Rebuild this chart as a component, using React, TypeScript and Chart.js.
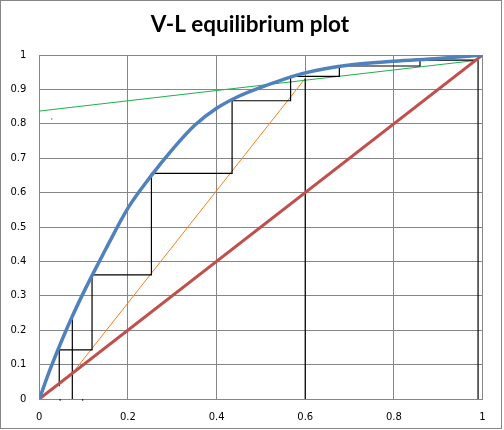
import React, { useEffect, useRef } from 'react';
import { Chart, registerables } from 'chart.js';

Chart.register(...registerables);

// Equilibrium curve
const eqX = [0, 0.025, 0.05, 0.075, 0.1, 0.125, 0.15, 0.2, 0.25, 0.3, 0.35, 0.4, 0.45, 0.5, 0.6, 0.7, 0.8, 0.9, 1];
const eqY = [0, 0.088, 0.168, 0.242, 0.31, 0.374, 0.436, 0.555, 0.645, 0.725, 0.795, 0.845, 0.88, 0.906, 0.948, 0.971, 0.982, 0.99, 1];

// y = x diagonal
const diagX = [0, 1];
const diagY = [0, 1];

// Rectifying operating line
const rectX = [0, 0.99];
const rectY = [0.837, 0.985];

// Stripping operating line
const stripX = [0.0745, 0.6];
const stripY = [0.0745, 0.932];

// Stage steps
const stepX = [0.99, 0.859, 0.859, 0.677, 0.677, 0.567, 0.567, 0.435, 0.435, 0.253, 0.253, 0.119, 0.119, 0.045, 0.045];
const stepY = [0.985, 0.985, 0.968, 0.968, 0.938, 0.938, 0.867, 0.867, 0.656, 0.656, 0.361, 0.361, 0.143, 0.143, 0.037];

// Vertical marker lines: distillate, feed, bottoms
const distX = [0.99, 0.99];
const distY = [0, 0.985];
const feedX = [0.6, 0.6];
const feedY = [0, 0.932];
const botX = [0.0745, 0.0745];
const botY = [0, 0.242];

// tiny marks
const markX = [0.047, 0.047, 0.098, 0.098];
const markY = [-0.005, 0, -0.005, 0];
const dotX = [0.028];
const dotY = [0.814];

const xTicks = [0, 0.2, 0.4, 0.6, 0.8, 1];
const yTicks = [0, 0.1, 0.2, 0.3, 0.4, 0.5, 0.6, 0.7, 0.8, 0.9, 1];

const pts = (xs: number[], ys: number[]) => xs.map((x, i) => ({ x, y: ys[i] }));

const GRID = '#868686';

export default function App() {
  const ref = useRef<HTMLCanvasElement | null>(null);

  useEffect(() => {
    document.body.style.margin = '0';
    const canvas = ref.current;
    if (!canvas) return;

    const frame = {
      id: 'frame',
      afterDraw(chart: any) {
        const ctx = chart.ctx;
        ctx.save();
        ctx.strokeStyle = GRID;
        ctx.lineWidth = 1;
        ctx.strokeRect(0.5, 0.5, 501, 428);
        ctx.fillStyle = '#000';
        ctx.font = 'bold 22.5px Lato';
        ctx.textAlign = 'center';
        ctx.textBaseline = 'alphabetic';
        ctx.fillText('V-L equilibrium plot', 250, 32);
        ctx.restore();
      },
    };

    const markPts = [
      { x: markX[0], y: markY[0] },
      { x: markX[1], y: markY[1] },
      { x: markX[1], y: null as any },
      { x: markX[2], y: markY[2] },
      { x: markX[3], y: markY[3] },
    ];

    const line = (data: any[], color: string, width: number, extra: any = {}) => ({
      data,
      showLine: true,
      borderColor: color,
      backgroundColor: color,
      borderWidth: width,
      pointRadius: 0,
      pointHoverRadius: 0,
      fill: false,
      tension: 0,
      ...extra,
    });

    const tickFont = { family: "'DejaVu Sans', Verdana, sans-serif", size: 10 };

    const chart = new Chart(canvas, {
      type: 'scatter',
      data: {
        datasets: [
          line(pts(eqX, eqY), '#4F81BD', 3.5, { cubicInterpolationMode: 'monotone' }),
          line(pts(diagX, diagY), '#C0504D', 3),
          line(pts(stepX, stepY), '#000000', 1.2),
          line(pts(distX, distY), '#000000', 1.2),
          line(pts(feedX, feedY), '#000000', 1.2),
          line(pts(botX, botY), '#000000', 1.2),
          line(markPts, '#000000', 1, { spanGaps: false, clip: false }),
          line(pts(rectX, rectY), '#1DB04B', 1),
          line(pts(stripX, stripY), '#F7801E', 1),
          { data: pts(dotX, dotY), showLine: false, pointRadius: 0.8, borderWidth: 0, backgroundColor: '#1DB04B', pointHoverRadius: 0 },
        ] as any,
      },
      options: {
        animation: false,
        responsive: false,
        events: [],
        layout: { padding: { top: 55, right: 21.5, left: 0, bottom: 0 } },
        plugins: {
          legend: { display: false },
          title: { display: false },
          tooltip: { enabled: false },
        },
        scales: {
          x: {
            type: 'linear',
            min: 0,
            max: 1,
            afterBuildTicks: (axis: any) => {
              axis.ticks = xTicks.map((v) => ({ value: v }));
            },
            afterFit: (axis: any) => {
              axis.height = 31;
            },
            grid: { color: GRID, lineWidth: 1, drawTicks: false },
            border: { color: GRID, width: 1 },
            ticks: {
              padding: 12,
              color: '#000',
              font: tickFont,
              callback: (v: any) => String(v),
              maxRotation: 0,
            },
          },
          y: {
            type: 'linear',
            min: 0,
            max: 1,
            afterBuildTicks: (axis: any) => {
              axis.ticks = yTicks.map((v) => ({ value: v }));
            },
            afterFit: (axis: any) => {
              axis.width = 39.3;
            },
            grid: { color: GRID, lineWidth: 1, drawTicks: false },
            border: { color: GRID, width: 1 },
            ticks: {
              padding: 13,
              color: '#000',
              font: tickFont,
              callback: (v: any) => String(v),
            },
          },
        },
      } as any,
      plugins: [frame],
    });

    return () => chart.destroy();
  }, []);

  return (
    <div style={{ width: 504, height: 430, position: 'relative' }}>
      <canvas ref={ref} width={504} height={430} style={{ display: 'block' }} />
    </div>
  );
}
